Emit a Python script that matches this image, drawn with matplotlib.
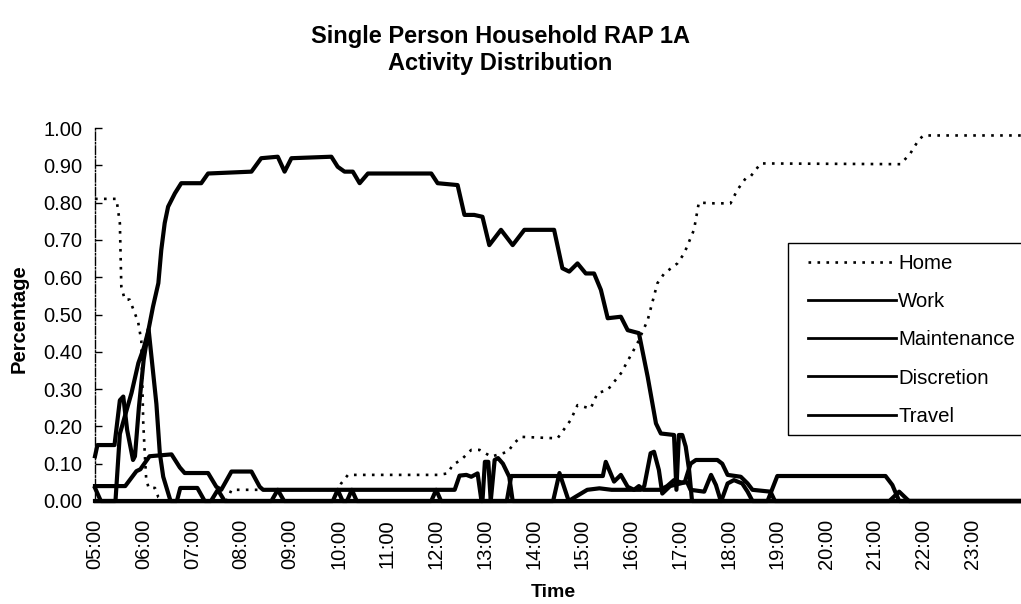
import numpy as np
import matplotlib
matplotlib.use('Agg')
import matplotlib.pyplot as plt
from matplotlib.patches import Rectangle

plt.rcParams['font.family'] = ['Liberation Sans', 'DejaVu Sans']

# data (time in decimal hours, share of persons)
hour_labels = ['05:00', '06:00', '07:00', '08:00', '09:00', '10:00', '11:00', '12:00', '13:00',
               '14:00', '15:00', '16:00', '17:00', '18:00', '19:00', '20:00', '21:00', '22:00', '23:00']
y_ticks = [0.0, 0.1, 0.2, 0.3, 0.4, 0.5, 0.6, 0.7, 0.8, 0.9, 1.0]

home_t = [5.00, 5.44, 5.51, 5.54, 5.61, 5.71, 5.885, 5.95, 5.99, 6.02,
          6.05, 6.10, 6.23, 6.30, 6.40, 7.70, 7.80, 10.00, 10.05, 10.19,
          12.03, 12.24, 12.34, 12.51, 12.72, 12.89, 13.13, 13.47, 13.60, 13.74,
          14.49, 14.76, 14.90, 15.17, 15.31, 15.52, 15.79, 16.13, 16.34, 16.54,
          16.68, 16.95, 17.09, 17.29, 17.39, 17.70, 18.04, 18.18, 18.35, 18.45,
          18.66, 21.53, 21.73, 21.90, 22.00, 24.00]
home_v = [0.81, 0.81, 0.745, 0.575, 0.54, 0.54, 0.48, 0.43, 0.21, 0.13,
          0.06, 0.035, 0.035, 0.01, 0.0, 0.0, 0.03, 0.03, 0.047, 0.07,
          0.07, 0.074, 0.097, 0.11, 0.137, 0.137, 0.119, 0.132, 0.155, 0.172,
          0.168, 0.217, 0.257, 0.248, 0.289, 0.298, 0.342, 0.423, 0.485, 0.584,
          0.61, 0.637, 0.664, 0.727, 0.80, 0.798, 0.798, 0.834, 0.865, 0.87,
          0.905, 0.903, 0.932, 0.968, 0.98, 0.98]

work_t = [5.00, 5.42, 5.51, 5.61, 5.75, 5.89, 6.00, 6.09, 6.19, 6.30,
          6.36, 6.43, 6.50, 6.64, 6.77, 7.18, 7.32, 8.21, 8.41, 8.75,
          8.89, 9.03, 9.85, 9.98, 10.12, 10.29, 10.43, 10.60, 11.90, 12.03,
          12.44, 12.58, 12.78, 12.95, 13.09, 13.33, 13.57, 13.81, 14.42, 14.59,
          14.73, 14.90, 15.07, 15.24, 15.38, 15.52, 15.79, 15.93, 16.16, 16.34,
          16.51, 16.61, 16.88, 16.93, 16.98, 17.05, 17.12, 17.19, 17.25, 24.00]
work_v = [0.0, 0.0, 0.18, 0.226, 0.29, 0.37, 0.41, 0.454, 0.521, 0.584,
          0.673, 0.745, 0.789, 0.825, 0.852, 0.852, 0.878, 0.883, 0.919, 0.923,
          0.883, 0.919, 0.923, 0.896, 0.883, 0.883, 0.852, 0.878, 0.878, 0.852,
          0.847, 0.767, 0.767, 0.762, 0.686, 0.727, 0.686, 0.727, 0.727, 0.624,
          0.615, 0.637, 0.61, 0.61, 0.566, 0.49, 0.494, 0.458, 0.45, 0.333,
          0.208, 0.181, 0.177, 0.03, 0.177, 0.177, 0.146, 0.083, 0.0, 0.0]

maint_t = [5.00, 5.62, 5.85, 5.93, 6.12, 6.57, 6.74, 6.84, 7.32, 7.49,
           7.59, 7.80, 8.21, 8.38, 8.45, 12.38, 12.48, 12.62, 12.72, 12.85,
           12.93, 13.45, 13.54, 15.42, 15.48, 15.58, 15.65, 15.79, 15.93, 16.06,
           16.16, 16.25, 16.60, 16.74, 16.88, 17.02, 17.15, 17.22, 17.50, 17.64,
           17.74, 17.84, 18.80, 19.00, 21.22, 21.36, 21.50, 24.00]
maint_v = [0.04, 0.04, 0.08, 0.085, 0.12, 0.125, 0.09, 0.075, 0.075, 0.038,
           0.03, 0.079, 0.079, 0.038, 0.03, 0.03, 0.068, 0.07, 0.065, 0.074,
           0.0, 0.0, 0.067, 0.067, 0.105, 0.074, 0.052, 0.07, 0.038, 0.03,
           0.04, 0.03, 0.03, 0.04, 0.056, 0.05, 0.05, 0.03, 0.025, 0.07,
           0.043, 0.0, 0.0, 0.067, 0.067, 0.043, 0.0, 0.0]

disc_t = [5.00, 5.12, 7.38, 7.52, 7.66, 8.62, 8.75, 8.88,
          12.95, 13.00, 13.07, 13.12,
          14.40, 14.53, 14.72, 14.87, 15.10, 15.35, 15.60,
          16.20, 16.27, 16.40, 16.47, 16.57, 16.64, 16.80,
          17.10, 17.22, 17.33, 17.77, 17.87, 17.98,
          18.25, 18.39, 18.49, 18.86, 18.95, 24.00]
disc_v = [0.035, 0.0, 0.0, 0.03, 0.0, 0.0, 0.03, 0.0,
          0.0, 0.105, 0.105, 0.0,
          0.0, 0.075, 0.0, 0.012, 0.03, 0.034, 0.03,
          0.03, 0.04, 0.128, 0.132, 0.083, 0.02, 0.04,
          0.05, 0.10, 0.11, 0.11, 0.10, 0.07,
          0.065, 0.047, 0.03, 0.025, 0.0, 0.0]

travel_t = [5.00, 5.05, 5.40, 5.51, 5.58, 5.66, 5.78, 5.82, 5.90, 6.00,
            6.10, 6.26, 6.33, 6.40, 6.55, 6.68, 6.75, 7.10, 7.25,
            9.88, 9.98, 10.08, 10.17, 10.27, 10.37,
            11.90, 12.00, 12.10,
            13.12, 13.20, 13.27, 13.37, 13.50, 13.57,
            17.85, 17.98, 18.11, 18.28, 18.39, 18.49,
            21.30, 21.50, 21.70, 24.00]
travel_v = [0.12, 0.15, 0.15, 0.27, 0.28, 0.19, 0.11, 0.12, 0.25, 0.38,
            0.46, 0.26, 0.128, 0.065, 0.0, 0.0, 0.035, 0.035, 0.0,
            0.0, 0.03, 0.0, 0.0, 0.03, 0.0,
            0.0, 0.03, 0.0,
            0.0, 0.11, 0.115, 0.10, 0.065, 0.0,
            0.0, 0.047, 0.056, 0.047, 0.025, 0.0,
            0.0, 0.025, 0.0, 0.0]

fig = plt.figure(figsize=(10.21, 6.04), dpi=100)
ax = fig.add_axes([95 / 1021, 1 - 501 / 604, 1 - 95 / 1021, 373 / 604])

lw = 3.0
ax.plot(home_t, home_v, color='black', lw=1.9, linestyle=(0, (1, 2.4)), label='Home', clip_on=False)
ax.plot(work_t, work_v, color='black', lw=lw, label='Work', clip_on=False, solid_joinstyle='round')
ax.plot(maint_t, maint_v, color='black', lw=lw, label='Maintenance', clip_on=False, solid_joinstyle='round')
ax.plot(disc_t, disc_v, color='black', lw=lw, label='Discretion', clip_on=False, solid_joinstyle='round')
ax.plot(travel_t, travel_v, color='black', lw=lw, label='Travel', clip_on=False, solid_joinstyle='round')

ax.set_xlim(5, 24.0)
ax.set_ylim(0, 1)

ax.set_xticks(np.arange(5, 24))
ax.set_xticklabels(hour_labels, rotation=90, fontsize=14.5)
ax.set_yticks(y_ticks)
ax.set_yticklabels(['%.2f' % v for v in y_ticks], fontsize=14.5)
ax.tick_params(axis='x', length=0, pad=13)
ax.tick_params(axis='y', direction='in', length=5, width=1, pad=9)

for side in ['top', 'right']:
    ax.spines[side].set_visible(False)
ax.spines['left'].set_linestyle((0, (6, 1.5, 1, 1.5)))
ax.spines['left'].set_linewidth(1)
ax.spines['bottom'].set_linewidth(2.5)

ax.set_ylabel('Percentage', fontsize=14.5, fontweight='bold')
ax.yaxis.set_label_coords(-0.072, 0.49)
ax.set_xlabel('Time', fontsize=14, fontweight='bold')
ax.xaxis.set_label_coords(0.495, -0.222)

fig.text(0.49, 1 - 50 / 604, 'Single Person Household RAP 1A\nActivity Distribution',
         ha='center', va='center', fontsize=17, fontweight='bold', linespacing=1.2)

# legend: frame drawn separately so it can run off the right edge
leg = ax.legend(loc='upper left', bbox_to_anchor=(808 / 1021, 1 - 254 / 604),
                bbox_transform=fig.transFigure, frameon=False, fontsize=14.7,
                handlelength=4.3, handletextpad=0.12, labelspacing=0.94,
                borderpad=0, borderaxespad=0)
for line in leg.get_lines():
    line.set_linewidth(2.0)
leg.get_lines()[0].set_linewidth(1.9)

fig.patches.append(Rectangle((788 / 1021, 1 - 435 / 604), 260 / 1021, 192 / 604,
                             transform=fig.transFigure, fill=False,
                             edgecolor='black', linewidth=1.0))

plt.savefig('out.png', dpi=100)
